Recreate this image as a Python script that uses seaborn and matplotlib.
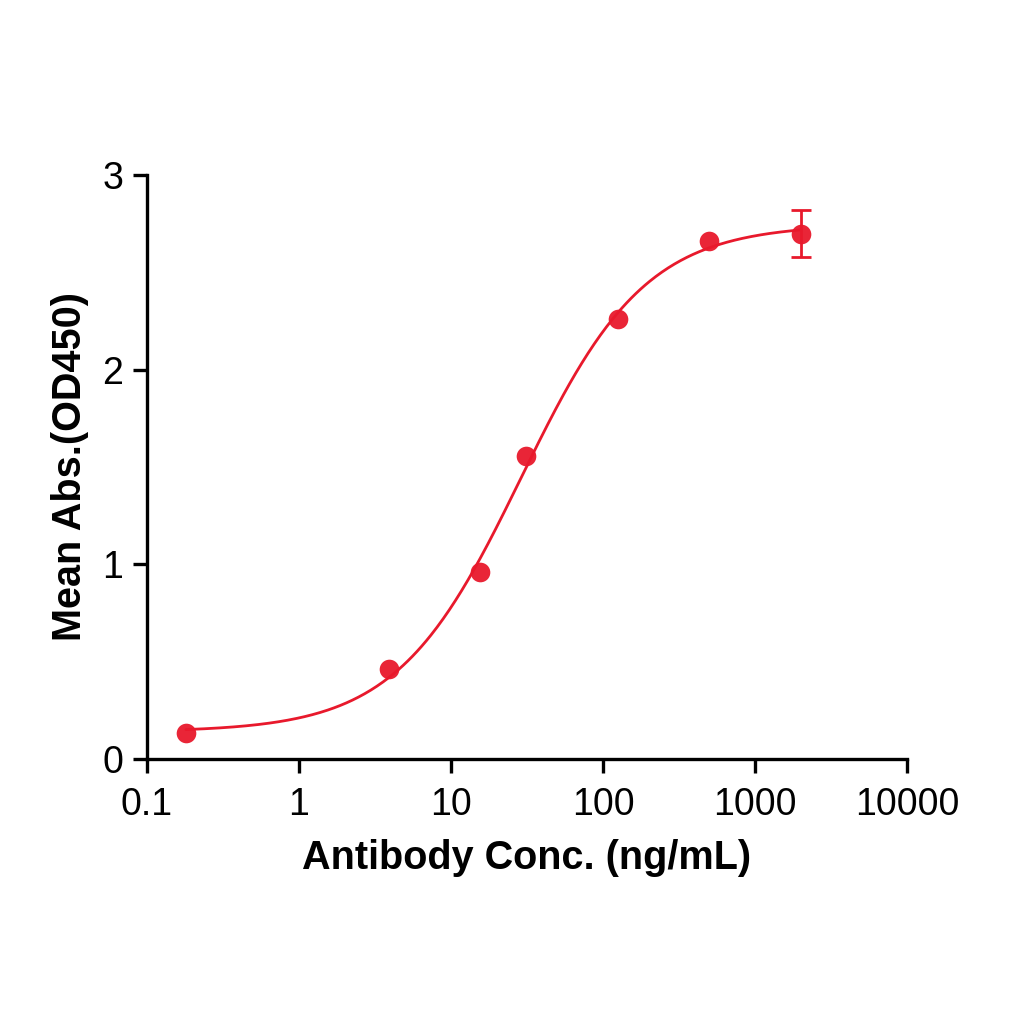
import numpy as np
import pandas as pd
import matplotlib
matplotlib.use("Agg")
import matplotlib.pyplot as plt
import seaborn as sns
from matplotlib.ticker import FixedLocator, NullLocator

# ---- data ----
conc = [0.18, 3.9, 15.6, 31.25, 125, 500, 2000]          # ng/mL
mean_abs = [0.135, 0.462, 0.962, 1.556, 2.262, 2.662, 2.698]
sd = [0.0, 0.0, 0.0, 0.0, 0.0, 0.0, 0.12]
x_ticks = [0.1, 1, 10, 100, 1000, 10000]
x_tick_labels = ["0.1", "1", "10", "100", "1000", "10000"]
y_ticks = [0, 1, 2, 3]

RED = "#E8192C"

sns.set_theme(style="ticks")
plt.rcParams["font.family"] = ["Liberation Sans", "DejaVu Sans"]
plt.rcParams["text.color"] = "black"
plt.rcParams["axes.labelcolor"] = "black"

df = pd.DataFrame({"conc": conc, "abs": mean_abs, "sd": sd})

# ---- 4PL fit (grid over EC50/hill, linear solve for bottom/top) ----
lx = np.log10(df["conc"].values)
yv = df["abs"].values
best = None
for lec in np.linspace(0.5, 2.5, 401):
    for h in np.linspace(0.5, 2.5, 201):
        s = 1.0 / (1.0 + 10 ** ((lec - lx) * h))
        A = np.column_stack([1 - s, s])
        coef, *_ = np.linalg.lstsq(A, yv, rcond=None)
        r = np.sum((A @ coef - yv) ** 2)
        if best is None or r < best[0]:
            best = (r, lec, h, coef)
_, lec, h, (bottom, top) = best
xs = np.logspace(lx.min(), lx.max(), 400)
fit = pd.DataFrame({"conc": xs,
                    "abs": bottom + (top - bottom) / (1 + 10 ** ((lec - np.log10(xs)) * h))})

fig = plt.figure(figsize=(10.24, 10.24), dpi=100)
ax = fig.add_axes([0.1436, 0.2588, 0.7422, 0.5703])

sns.lineplot(data=fit, x="conc", y="abs", color=RED, linewidth=2.0, ax=ax, zorder=2)
err = df[df["sd"] > 0]
ax.errorbar(err["conc"], err["abs"], yerr=err["sd"], fmt="none", ecolor=RED,
            elinewidth=2, capsize=7, capthick=2, zorder=3)
sns.scatterplot(data=df, x="conc", y="abs", color=RED, s=200, edgecolor=RED,
                linewidth=0, ax=ax, zorder=4, alpha=0.95)

ax.set_xscale("log")
ax.set_xlim(0.1, 10000)
ax.set_ylim(0, 3)
ax.xaxis.set_major_locator(FixedLocator(x_ticks))
ax.set_xticklabels(x_tick_labels)
ax.xaxis.set_minor_locator(NullLocator())
ax.set_yticks(y_ticks)
ax.set_yticklabels([str(t) for t in y_ticks])

for side in ["top", "right"]:
    ax.spines[side].set_visible(False)
for side in ["left", "bottom"]:
    ax.spines[side].set_linewidth(2.4)
    ax.spines[side].set_color("black")
ax.tick_params(axis="both", which="major", length=10, width=2.4, color="black",
               labelsize=27, labelcolor="black", direction="out")
ax.tick_params(axis="x", pad=10)
ax.tick_params(axis="y", pad=7)

ax.set_xlabel("Antibody Conc. (ng/mL)", fontsize=28.5, fontweight="bold", labelpad=12)
ax.set_ylabel("Mean Abs.(OD450)", fontsize=28.5, fontweight="bold", labelpad=10)

fig.savefig("out.png", dpi=100)
